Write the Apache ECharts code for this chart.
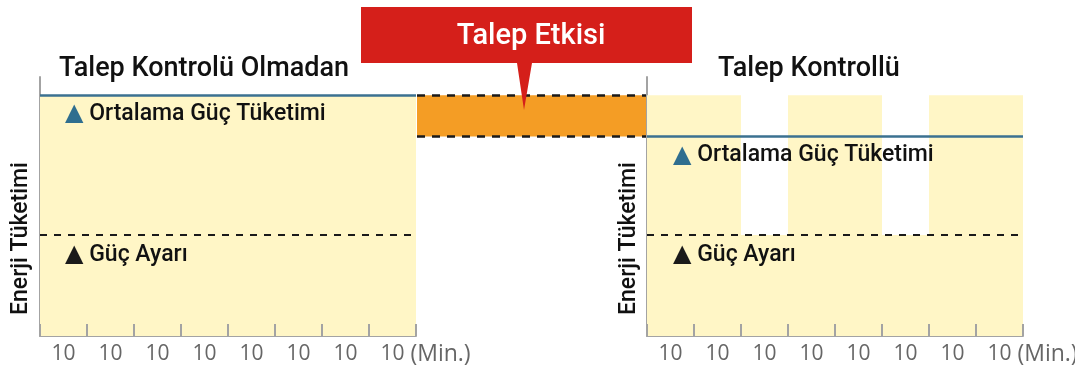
<!DOCTYPE html>
<html>
<head>
<meta charset="utf-8">
<script src="https://cdn.jsdelivr.net/npm/echarts@6/dist/echarts.min.js"></script>
<style>
html, body { margin: 0; padding: 0; background: #fff; }
#chart { width: 1075px; height: 365px; }
</style>
</head>
<body>
<div id="chart"></div>
<script>
// x ekseni: 10 dakikalık dilimler
const timeLabels = ['10', '10', '10', '10', '10', '10', '10', '10'];
// enerji tüketimi, göreli ölçek (0-100)
const usageNoControl = [93, 93, 93, 93, 93, 93, 93, 93];
const usageControl = [93, 93, 39, 93, 93, 39, 93, 93];
const avgNoControl = 93;   // ortalama güç tüketimi, kontrolsüz
const avgControl = 77;     // ortalama güç tüketimi, kontrollü
const powerSetting = 39;   // güç ayarı
const yMax = 100;

// dilim sınırlarındaki tik çizgileri (0..8)
const tickMarks = timeLabels.map((_, i) => [i, 1]).concat([[timeLabels.length, 1]]);

const font = 'Roboto, "Noto Sans", sans-serif';
const tickFont = '"Open Sans", Roboto, sans-serif';
const gray = '#a3a3a3';
const yellow = '#fff6c6';
const blue = '#3b7191';

function timeAxis(gridIndex) {
  return {
    type: 'category',
    gridIndex: gridIndex,
    data: timeLabels,
    boundaryGap: true,
    axisLine: { show: true, lineStyle: { color: gray, width: 2 } },
    axisTick: { show: false },
    axisLabel: { color: '#666', fontSize: 21, fontFamily: tickFont, margin: 6, lineHeight: 24 },
    name: '(Min.)',
    nameLocation: 'end',
    nameGap: 51,
    nameTextStyle: {
      color: '#666', fontSize: 23, fontFamily: tickFont,
      align: 'right', verticalAlign: 'top', lineHeight: 24, padding: [6, 0, 0, 0]
    }
  };
}

function energyAxis(gridIndex, gap) {
  return {
    type: 'value',
    gridIndex: gridIndex,
    min: 0,
    max: yMax,
    axisLine: { show: true, lineStyle: { color: gray, width: 2 } },
    axisTick: { show: false },
    axisLabel: { show: false },
    splitLine: { show: false },
    name: 'Enerji Tüketimi',
    nameLocation: 'middle',
    nameRotate: 90,
    nameGap: gap,
    nameTextStyle: { color: '#111', fontSize: 23, fontFamily: font, fontWeight: 500, padding: [0, 64, 0, 0] }
  };
}

// markLine etiketi: üçgen + metin
function lineLabel(text, triColor, dx, dy) {
  return {
    show: true,
    position: 'insideStartBottom',
    distance: [dx, dy],
    formatter: '{t|▲} ' + text,
    color: '#111',
    fontSize: 23,
    fontFamily: font,
    fontWeight: 500,
    rich: {
      t: { color: triColor, fontSize: 24, fontFamily: '"DejaVu Sans"' }
    }
  };
}

// tik çizgileri için ince bar serisi
function tickSeries(axisIndex) {
  return {
    type: 'bar', xAxisIndex: axisIndex, yAxisIndex: axisIndex, silent: true, z: 5,
    data: tickMarks, barWidth: 2, itemStyle: { color: gray }
  };
}

const chart = echarts.init(document.getElementById('chart'));

const option = {
  animation: false,
  title: [
    { text: 'Talep Kontrolü Olmadan', left: 59, top: 55, padding: 0,
      textStyle: { color: '#111', fontSize: 27, fontFamily: font, fontWeight: 500, lineHeight: 28 } },
    { text: 'Talep Kontrollü', left: 718, top: 55, padding: 0,
      textStyle: { color: '#111', fontSize: 27, fontFamily: font, fontWeight: 500, lineHeight: 28 } }
  ],
  grid: [
    { left: 40, width: 376, top: 77, height: 259, outerBoundsMode: 'none' },
    { left: 647, width: 376, top: 77, height: 259, outerBoundsMode: 'none' },
    // ortadaki talep etkisi bandı
    { left: 417, width: 229, top: 77, height: 259, outerBoundsMode: 'none' },
    // tik şeritleri
    { left: 40, width: 376, top: 324, height: 12, outerBoundsMode: 'none' },
    { left: 647, width: 376, top: 324, height: 12, outerBoundsMode: 'none' }
  ],
  xAxis: [
    timeAxis(0),
    timeAxis(1),
    { type: 'value', gridIndex: 2, min: 0, max: 1, show: false },
    { type: 'value', gridIndex: 3, min: 0, max: timeLabels.length, show: false },
    { type: 'value', gridIndex: 4, min: 0, max: timeLabels.length, show: false }
  ],
  yAxis: [
    energyAxis(0, 7),
    energyAxis(1, 6),
    { type: 'value', gridIndex: 2, min: 0, max: yMax, show: false },
    { type: 'value', gridIndex: 3, min: 0, max: 1, show: false },
    { type: 'value', gridIndex: 4, min: 0, max: 1, show: false }
  ],
  graphic: [
    {
      type: 'polygon', z: 100, silent: true,
      shape: { points: [[361, 7], [692, 7], [692, 63], [532, 63], [524, 110], [517, 63], [361, 63]] },
      style: { fill: '#d51f1a' }
    },
    {
      type: 'text', z: 101, silent: true,
      style: { text: 'Talep Etkisi', x: 531, y: 37, align: 'center', verticalAlign: 'middle',
               fill: '#fff', fontSize: 29, fontFamily: font, fontWeight: 500 }
    }
  ],
  series: [
    {
      type: 'bar', xAxisIndex: 0, yAxisIndex: 0, silent: true,
      data: usageNoControl, barWidth: '100%', barGap: 0,
      itemStyle: { color: yellow },
      markLine: {
        symbol: 'none', silent: true,
        data: [
          { yAxis: avgNoControl, lineStyle: { color: blue, width: 2.5, type: 'solid' },
            label: lineLabel('Ortalama Güç Tüketimi', '#2f6e8f', 25, 7) },
          { yAxis: powerSetting, lineStyle: { color: '#1a1a1a', width: 2, type: [7, 7] },
            label: lineLabel('Güç Ayarı', '#1a1a1a', 25, 8) }
        ]
      }
    },
    {
      type: 'bar', xAxisIndex: 1, yAxisIndex: 1, silent: true,
      data: usageControl, barWidth: '100%', barGap: 0,
      itemStyle: { color: yellow },
      markLine: {
        symbol: 'none', silent: true,
        data: [
          { yAxis: avgControl, lineStyle: { color: blue, width: 2.5, type: 'solid' },
            label: lineLabel('Ortalama Güç Tüketimi', '#2f6e8f', 26, 7) },
          { yAxis: powerSetting, lineStyle: { color: '#1a1a1a', width: 2, type: [7, 7] },
            label: lineLabel('Güç Ayarı', '#1a1a1a', 26, 8) }
        ]
      }
    },
    {
      type: 'line', xAxisIndex: 2, yAxisIndex: 2, silent: true, data: [],
      markArea: {
        silent: true,
        itemStyle: { color: '#f49d25' },
        data: [[{ yAxis: avgControl }, { yAxis: avgNoControl }]]
      },
      markLine: {
        symbol: 'none', silent: true,
        label: { show: false },
        lineStyle: { color: '#1a1a1a', width: 2.5, type: [8, 7] },
        data: [{ yAxis: avgNoControl }, { yAxis: avgControl }]
      }
    },
    tickSeries(3),
    tickSeries(4)
  ]
};

chart.setOption(option);
</script>
</body>
</html>
